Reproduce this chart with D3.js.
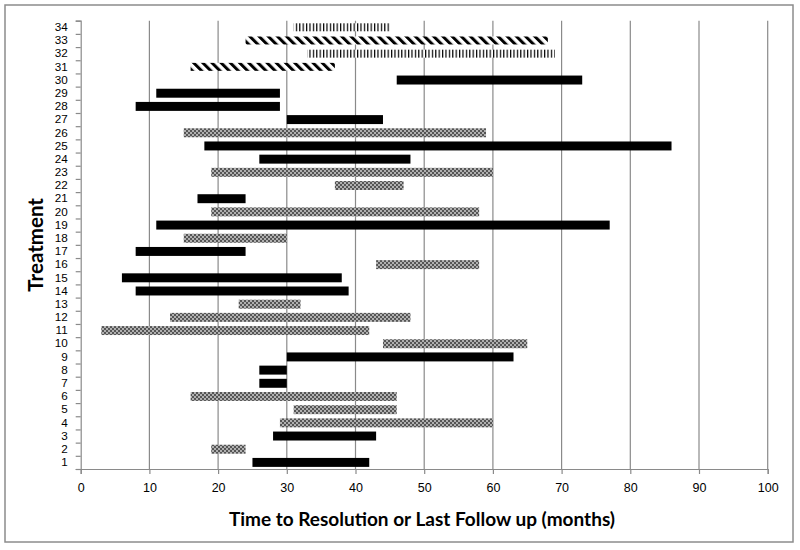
<!DOCTYPE html>
<html>
<head>
<meta charset="utf-8">
<script src="https://cdn.jsdelivr.net/npm/d3@7"></script>
<style>
  html, body { margin: 0; padding: 0; background: #fff; }
  svg { display: block; }
</style>
</head>
<body>
<svg id="chart" width="800" height="550"></svg>
<script>
// ---- Data ----
const treatments = [1,2,3,4,5,6,7,8,9,10,11,12,13,14,15,16,17,18,19,20,21,22,23,24,25,26,27,28,29,30,31,32,33,34];
const startMonths = [25,19,28,29,31,16,26,26,30,44,3,13,23,8,6,43,8,15,11,19,17,37,19,26,18,15,30,8,11,46,16,33,24,31];
const endMonths   = [42,24,43,60,46,46,30,30,63,65,42,48,32,39,38,58,24,30,77,58,24,47,60,48,86,59,44,29,29,73,37,69,68,45];
const barTypes = ["solid","stipple","solid","stipple","stipple","stipple","solid","solid","solid","stipple",
                  "stipple","stipple","stipple","solid","solid","stipple","solid","stipple","solid","stipple",
                  "solid","stipple","stipple","solid","solid","stipple","solid","solid","solid","solid",
                  "hatch","vlines","hatch","vlines"];
const xTicks = [0,10,20,30,40,50,60,70,80,90,100];
const xTitle = "Time to Resolution or Last Follow up (months)";
const yTitle = "Treatment";

(function () {
const rows = treatments.map((t, i) => ({ t, s: startMonths[i], e: endMonths[i], type: barTypes[i] }));

// ---- Layout ----
const svg = d3.select("#chart");
const pLeft = 80.7, pRight = 767.7, pTop = 20.7, pBottom = 469;
const font = "Lato, 'Open Sans', sans-serif";
const tickFont = "'Liberation Sans', Arial, sans-serif";

svg.append("rect").attr("x", 5).attr("y", 5).attr("width", 788).attr("height", 537)
  .attr("fill", "#fff").attr("stroke", "#8c8c8c").attr("stroke-width", 1.5);

const x = d3.scaleLinear().domain([0, 100]).range([pLeft, pRight]);
const y = d3.scaleBand().domain(treatments.slice().reverse()).range([pTop, pBottom]).paddingInner(0.32).paddingOuter(0.16);
const yLin = d3.scaleLinear().domain([0.5, 34.5]).range([pBottom, pTop]);

// ---- Patterns ----
const defs = svg.append("defs");
const stip = defs.append("pattern").attr("id", "stipple").attr("patternUnits", "userSpaceOnUse")
  .attr("width", 4).attr("height", 4);
stip.append("rect").attr("width", 4).attr("height", 4).attr("fill", "#b0b0b0");
stip.append("rect").attr("width", 2).attr("height", 2).attr("fill", "#555");
stip.append("rect").attr("x", 2).attr("y", 2).attr("width", 2).attr("height", 2).attr("fill", "#555");

const hatch = defs.append("pattern").attr("id", "hatch").attr("patternUnits", "userSpaceOnUse")
  .attr("width", 6.5).attr("height", 6.5).attr("patternTransform", "rotate(-45)");
hatch.append("rect").attr("width", 6.5).attr("height", 6.5).attr("fill", "#fff");
hatch.append("rect").attr("width", 3).attr("height", 6.5).attr("fill", "#000");

const vl = defs.append("pattern").attr("id", "vlines").attr("patternUnits", "userSpaceOnUse")
  .attr("width", 3.4).attr("height", 10);
vl.append("rect").attr("width", 3.4).attr("height", 10).attr("fill", "#fff");
vl.append("rect").attr("width", 1.2).attr("height", 10).attr("fill", "#000");

// ---- Gridlines ----
svg.append("g").selectAll("line").data(xTicks.filter(d => d > 0)).join("line")
  .attr("x1", d => x(d)).attr("x2", d => x(d)).attr("y1", pTop).attr("y2", pBottom)
  .attr("stroke", "#8a8a8a").attr("stroke-width", 1.2);

// ---- Bars ----
const fills = { solid: "#000", stipple: "url(#stipple)", hatch: "url(#hatch)", vlines: "url(#vlines)" };
svg.append("g").selectAll("rect").data(rows).join("rect")
  .attr("x", d => x(d.s))
  .attr("width", d => x(d.e) - x(d.s))
  .attr("y", d => y(d.t) + (d.type === "hatch" || d.type === "vlines" ? 0.5 : 0))
  .attr("height", d => y.bandwidth() - (d.type === "hatch" || d.type === "vlines" ? 1 : 0))
  .attr("fill", d => fills[d.type]);

// ---- Axes ----
const xAxis = svg.append("g").attr("transform", `translate(0,${pBottom})`)
  .call(d3.axisBottom(x).tickValues(xTicks).tickSize(5).tickPadding(9));
xAxis.select(".domain").attr("stroke", "#8a8a8a").attr("stroke-width", 1.2);
xAxis.selectAll(".tick line").attr("stroke", "#8a8a8a").attr("stroke-width", 1.2);
xAxis.selectAll("text").attr("font-family", tickFont).attr("font-size", 12.5).attr("fill", "#000");

const yTickBounds = d3.range(0.5, 35, 1);
const yAxisTicks = svg.append("g").attr("transform", `translate(${pLeft},0)`)
  .call(d3.axisLeft(yLin).tickValues(yTickBounds).tickSize(5).tickFormat(""));
yAxisTicks.select(".domain").attr("stroke", "#8a8a8a").attr("stroke-width", 1.2);
yAxisTicks.selectAll(".tick line").attr("stroke", "#8a8a8a").attr("stroke-width", 1.2);

const yAxisLabels = svg.append("g").attr("transform", `translate(${pLeft},0)`)
  .call(d3.axisLeft(y).tickSize(0).tickPadding(13));
yAxisLabels.select(".domain").remove();
yAxisLabels.selectAll("text").attr("font-family", tickFont).attr("font-size", 11.7).attr("fill", "#000");

// ---- Titles ----
svg.append("text").attr("x", 422).attr("y", 526).attr("text-anchor", "middle")
  .attr("font-family", font).attr("font-weight", "bold").attr("font-size", 19).text(xTitle);
svg.append("text").attr("transform", `translate(43,${(pTop + pBottom) / 2}) rotate(-90)`)
  .attr("text-anchor", "middle").attr("font-family", font).attr("font-weight", "bold")
  .attr("font-size", 20.5).text(yTitle);
})();
</script>
</body>
</html>
